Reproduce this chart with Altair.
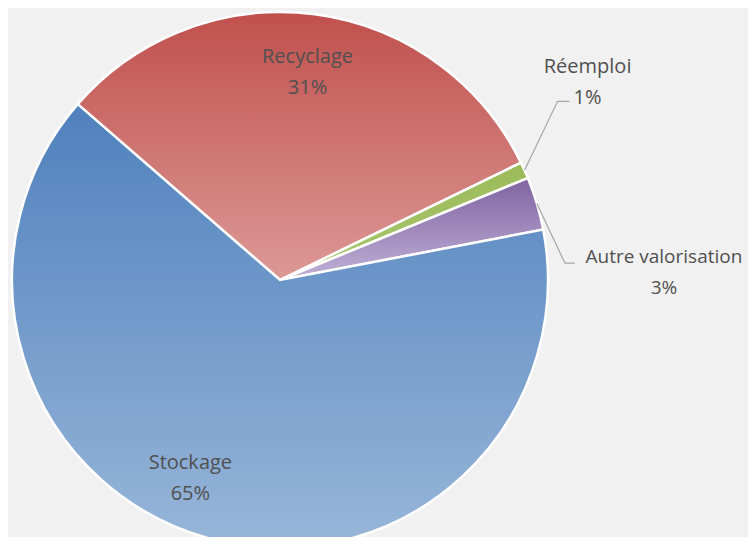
import math
import altair as alt
import pandas as pd

# ---- data ----
categories = ["Recyclage", "Réemploi", "Autre valorisation", "Stockage"]
shares = [31.4, 1.0, 3.2, 64.4]
pct_labels = ["31%", "1%", "3%", "65%"]

# ---- styling ----
FONT = "Open Sans"
TEXT_COLOR = "#505050"
A0 = math.radians(311)          # start angle of first slice
CX, CY, R = 272, 272, 268       # pie centre / radius in pixels
W, H = 740, 529
LINE_H = 31
TEXT_SHIFT = -15                # multi-line block: first line sits on anchor


def grad(c0, c1):
    return {"gradient": "linear", "x1": 0, "y1": 0, "x2": 0, "y2": 1,
            "stops": [{"offset": 0, "color": c0}, {"offset": 1, "color": c1}]}


fills = {
    "Recyclage": grad("#c0504d", "#dc9996"),
    "Réemploi": grad("#9bbb59", "#a9c66e"),
    "Autre valorisation": grad("#8064a2", "#bfb0d5"),
    "Stockage": grad("#4f81bd", "#98b6d9"),
}

df = pd.DataFrame({"cat": categories, "share": shares, "pct": pct_labels})
df["end"] = df["share"].cumsum()
df["start"] = df["end"] - df["share"]
df["mid"] = (df["start"] + df["end"]) / 2
df["label"] = df["cat"] + "\n" + df["pct"]
total = float(df["share"].sum())

theta_scale = alt.Scale(domain=[0, total], range=[A0, A0 + 2 * math.pi])

fill_spec = {
    "condition": [
        {"test": f"datum.cat === '{c}'", "value": fills[c]} for c in categories[:-1]
    ],
    "value": fills[categories[-1]],
}

base = alt.Chart(df)

arcs = base.mark_arc(radius=R, stroke="white", strokeWidth=2.5).encode(
    theta=alt.Theta("start:Q", scale=theta_scale),
    theta2="end:Q",
    fill=fill_spec,
    x=alt.value(CX),
    y=alt.value(CY),
)

# label placement (style): radius, pixel offsets (block centre), font size
label_style = {
    "Recyclage": (210, 0, 0, 20),
    "Réemploi": (290, 43, -79, 20),
    "Autre valorisation": (290, 106, 75, 19),
    "Stockage": (210, -35, -5, 20),
}

labels = []
for c in categories:
    r, dx, dy, fs = label_style[c]
    labels.append(
        base.transform_filter(alt.datum.cat == c).mark_text(
            radius=r, dx=dx, dy=dy + TEXT_SHIFT, font=FONT, fontSize=fs,
            color=TEXT_COLOR, lineBreak="\n", lineHeight=LINE_H,
            align="center", baseline="middle",
        ).encode(
            theta=alt.Theta("mid:Q", scale=theta_scale),
            text="label:N",
            x=alt.value(CX),
            y=alt.value(CY),
        )
    )

# leader lines for the small outside slices (offsets from label block centre)
leader_offsets = {
    "Réemploi": [(-30, 19), (-18, 19)],
    "Autre valorisation": [(-99, -9), (-89, -9)],
}
rows = []
for c, offs in leader_offsets.items():
    m = float(df.loc[df["cat"] == c, "mid"].iloc[0])
    ang = A0 + 2 * math.pi * m / total
    r, dx, dy, _ = label_style[c]
    sx, sy = CX + R * math.sin(ang), CY - R * math.cos(ang)
    ax, ay = CX + r * math.sin(ang) + dx, CY - r * math.cos(ang) + dy
    rows.append({"cat": c, "step": 0, "px": sx, "py": sy})
    for i, (ox, oy) in enumerate(offs, start=1):
        rows.append({"cat": c, "step": i, "px": ax + ox, "py": ay + oy})
leader_df = pd.DataFrame(rows)

leaders = alt.Chart(leader_df).mark_line(color="#a6a6a6", strokeWidth=1.2).encode(
    x=alt.X("px:Q", scale=None, axis=None),
    y=alt.Y("py:Q", scale=None, axis=None),
    detail="cat:N",
    order="step:Q",
)

chart = alt.layer(arcs, leaders, *labels).properties(
    width=W, height=H, padding=0, autosize="none", background="#f1f1f1"
).configure_view(stroke=None)

chart.save("out.html", embed_options={"renderer": "svg", "actions": False})
